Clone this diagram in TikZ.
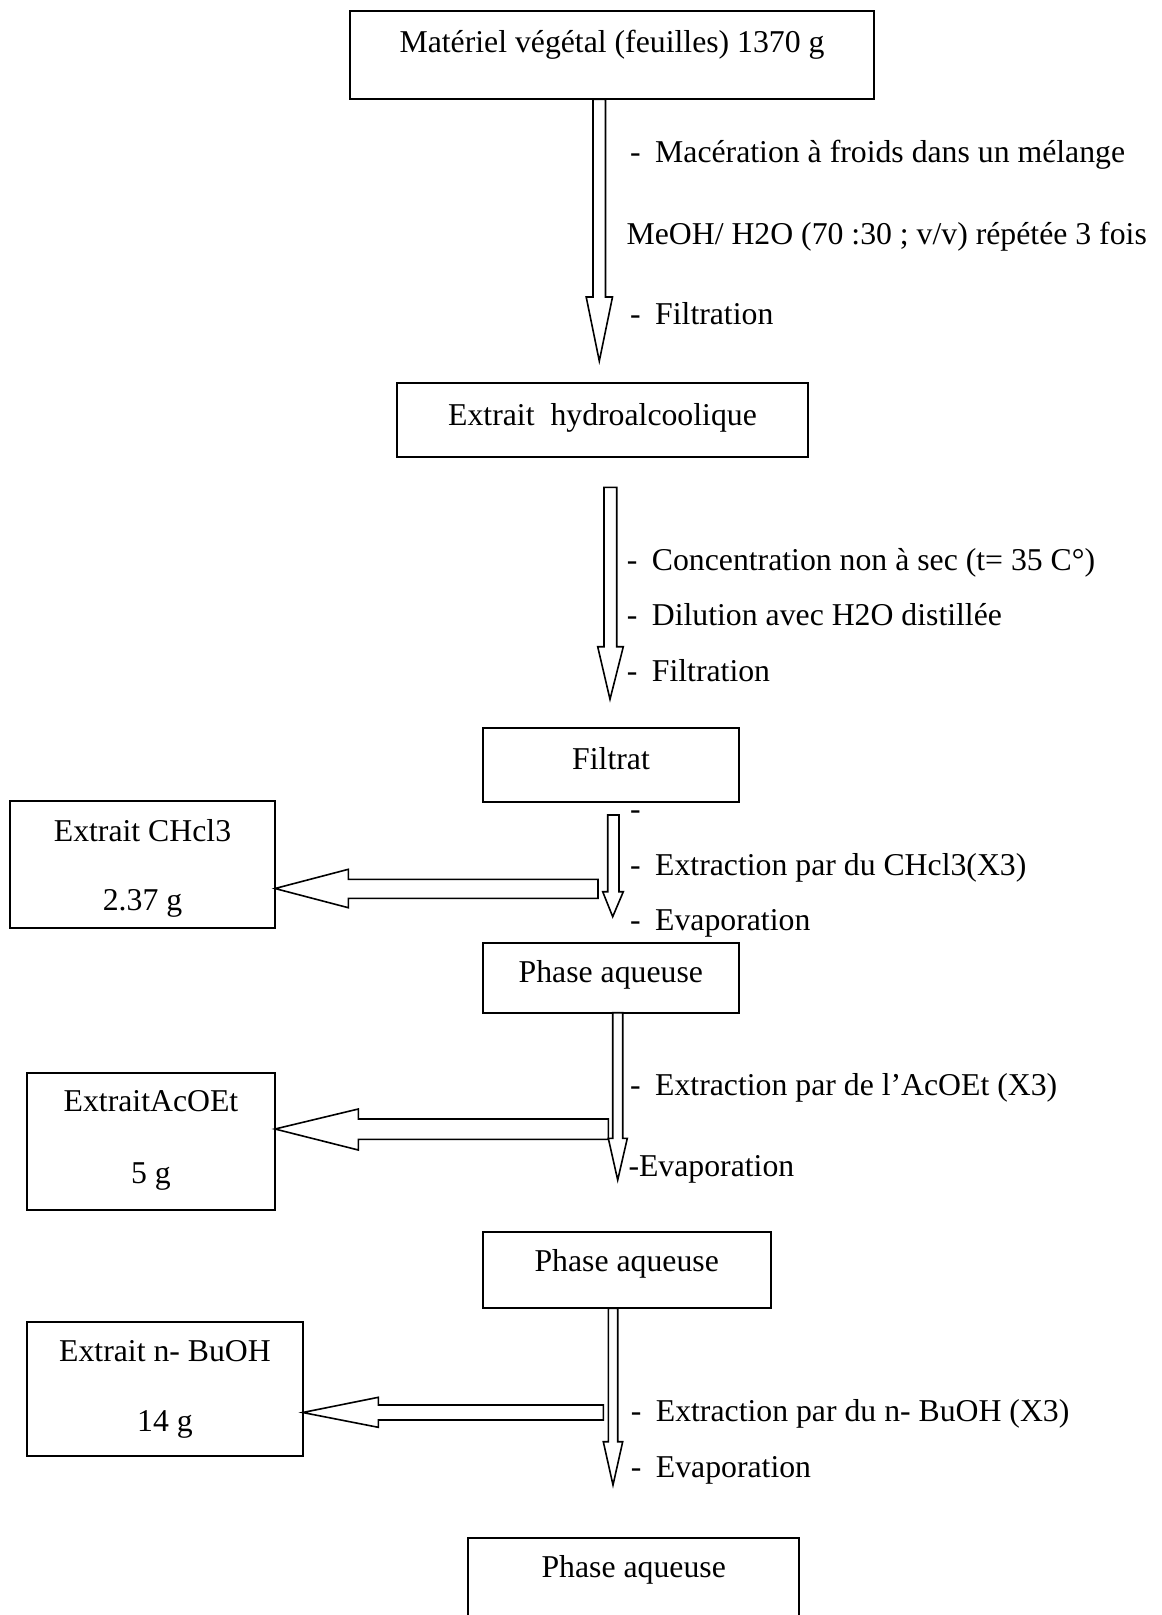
\documentclass[tikz,border=0pt]{standalone}
\usepackage{fontspec}
\setmainfont{Liberation Serif}
\newcommand\diagfs{\fontsize{31.75}{38}\selectfont}
\newcommand\dashitem[1]{\makebox[25pt][l]{-}#1}
\tikzset{
  box/.style={draw, line width=1.8pt, inner sep=0pt, outer sep=0pt, anchor=north west},
  txt/.style={font=\diagfs, inner sep=0pt, anchor=base},
  note/.style={font=\diagfs, inner sep=0pt, anchor=base west},
  blockarrow/.style={draw, line width=1.6pt, fill=white, line join=miter},
}
\begin{document}
\begin{tikzpicture}[x=1pt, y=-1pt]
\clip (0,0) rectangle (1162,1615);
\fill[white] (0,0) rectangle (1162,1615);

% main column boxes
\node[box, minimum width=523.4pt, minimum height=88.6pt] (b1) at (350.3,10.7) {};
\node[txt] (t1) at (612,52) {Matériel végétal (feuilles) 1370 g};

\node[box, minimum width=410.4pt, minimum height=73.7pt] (b2) at (397.3,383) {};
\node[txt] (t2) at (602.5,425) {Extrait\ \ hydroalcoolique};

\node[box, minimum width=255.7pt, minimum height=73.7pt] (b3) at (483.3,728) {};
\node[txt] (t3) at (611,769) {Filtrat};

\node[box, minimum width=256.3pt, minimum height=70pt] (b4) at (482.7,942.7) {};
\node[txt] (t4) at (610.8,982.5) {Phase aqueuse};

\node[box, minimum width=288pt, minimum height=76.6pt] (b5) at (482.7,1231.7) {};
\node[txt] (t5) at (626.7,1271.7) {Phase aqueuse};

\node[box, minimum width=330.7pt, minimum height=120pt] (b6) at (468.3,1537.7) {};
\node[txt] (t6) at (633.7,1577.7) {Phase aqueuse};

% side boxes
\node[box, minimum width=265pt, minimum height=127.6pt] (c1) at (10,800.7) {};
\node[txt] (c1a) at (142.5,841.7) {Extrait CHcl3};
\node[txt] (c1b) at (142.5,910) {2.37 g};

\node[box, minimum width=247.7pt, minimum height=136.7pt] (c2) at (27.3,1073.3) {};
\node[txt] (c2a) at (151,1111.7) {ExtraitAcOEt};
\node[txt] (c2b) at (151,1183.3) {5 g};

\node[box, minimum width=275.4pt, minimum height=134.3pt] (c3) at (27.3,1321.7) {};
\node[txt] (c3a) at (165,1361.7) {Extrait n- BuOH};
\node[txt] (c3b) at (165,1431.7) {14 g};

% left block arrows
\draw[blockarrow] (598,879.3) -- (348.3,879.3) -- (348.3,869.3) -- (c1.east |- 0,888.5) -- (348.3,907.7) -- (348.3,898.3) -- (598,898.3) -- cycle;
\draw[blockarrow] (608.3,1119) -- (358.3,1119) -- (358.3,1109) -- (c2.east |- 0,1129) -- (358.3,1150) -- (358.3,1139.3) -- (608.3,1139.3) -- cycle;
\draw[blockarrow] (603.3,1405) -- (378.3,1405) -- (378.3,1397.3) -- (c3.east |- 0,1412.5) -- (378.3,1427.3) -- (378.3,1420) -- (603.3,1420) -- cycle;

% down block arrows
\draw[blockarrow] (593,99.3) -- (605.5,99.3) -- (605.5,297) -- (612.5,297) -- (599.3,361) -- (586.2,297) -- (593,297) -- cycle;
\draw[blockarrow] (604,487.3) -- (616.7,487.3) -- (616.7,646.7) -- (623.3,646.7) -- (610,699.3) -- (597.7,646.7) -- (604,646.7) -- cycle;
\draw[blockarrow] (607.7,815) -- (619,815) -- (619,891.7) -- (623.3,891.7) -- (612.7,916.7) -- (602.7,891.7) -- (607.7,891.7) -- cycle;
\draw[blockarrow] (612.7,1012.7) -- (622.7,1012.7) -- (622.7,1138.3) -- (627.3,1138.3) -- (617.7,1180) -- (608.3,1138.3) -- (612.7,1138.3) -- cycle;
\draw[blockarrow] (608.3,1308.3) -- (617.7,1308.3) -- (617.7,1441.7) -- (622.7,1441.7) -- (613,1485) -- (603.3,1441.7) -- (608.3,1441.7) -- cycle;

% step notes
\node[note] (n1) at (630,162) {\dashitem{Macération à froids dans un mélange}};
\node[note] (n2) at (626.4,244) {MeOH/ H2O (70 :30 ; v/v) répétée 3 fois};
\node[note] (n3) at (630,324) {\dashitem{Filtration}};
\node[note] (n4) at (626.7,570) {\dashitem{Concentration non à sec (t= 35 C°)}};
\node[note] (n5) at (626.7,625) {\dashitem{Dilution avec H2O distillée}};
\node[note] (n6) at (626.7,681.7) {\dashitem{Filtration}};
\node[note] (n7) at (630,819) {-};
\node[note] (n8) at (630,875) {\dashitem{Extraction par du CHcl3(X3)}};
\node[note] (n9) at (630,930) {\dashitem{Evaporation}};
\node[note] (n10) at (630,1095) {\dashitem{Extraction par de l’AcOEt (X3)}};
\node[note] (n11) at (628.3,1176) {-Evaporation};
\node[note] (n12) at (630.7,1421.7) {\dashitem{Extraction par du n- BuOH (X3)}};
\node[note] (n13) at (630.7,1477.3) {\dashitem{Evaporation}};
\end{tikzpicture}
\end{document}
